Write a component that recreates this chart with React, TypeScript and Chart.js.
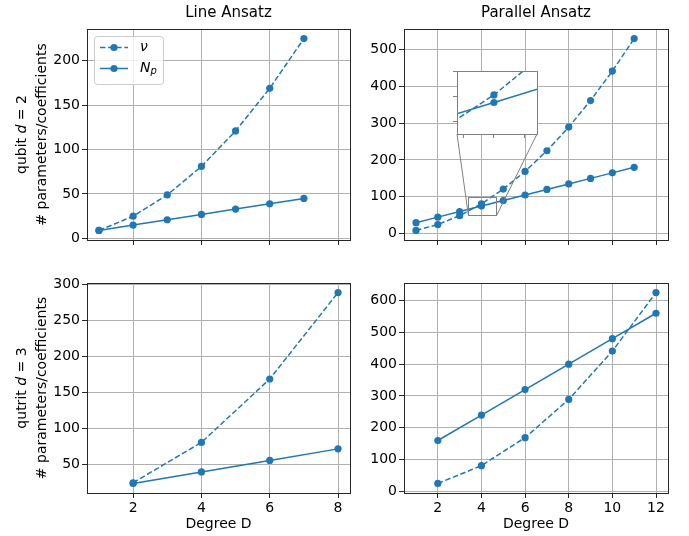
import React, { useEffect, useRef } from 'react';
import { Chart, registerables } from 'chart.js';

Chart.register(...registerables);

// ---------------- data ----------------
const lineQubitDegree = [1, 2, 3, 4, 5, 6, 7];
const lineQubitNu = [9, 25, 49, 81, 121, 169, 225];
const lineQubitNp = [9, 15, 21, 27, 33, 39, 45];

const parQubitDegree = [1, 2, 3, 4, 5, 6, 7, 8, 9, 10, 11];
const parQubitNu = [9, 25, 49, 81, 121, 169, 225, 289, 361, 441, 529];
const parQubitNp = [30, 45, 60, 75, 90, 105, 120, 135, 150, 165, 180];

const lineQutritDegree = [2, 4, 6, 8];
const lineQutritNu = [25, 81, 169, 289];
const lineQutritNp = [24, 40, 56, 72];

const parQutritDegree = [2, 4, 6, 8, 10, 12];
const parQutritNu = [25, 81, 169, 289, 441, 625];
const parQutritNp = [160, 240, 320, 400, 480, 560];

const xTicksLine = [2, 4, 6, 8];
const xTicksPar = [2, 4, 6, 8, 10, 12];
const yTicksLineQubit = [0, 50, 100, 150, 200];
const yTicksParQubit = [0, 100, 200, 300, 400, 500];
const yTicksLineQutrit = [50, 100, 150, 200, 250, 300];
const yTicksParQutrit = [0, 100, 200, 300, 400, 500, 600];

const insetXLim = [3.4, 4.7];
const insetYLim = [50, 100];
const insetXTicks = [3.5, 4, 4.5];
const insetYTicks = [60, 80, 100];

const colTitles = ['Line Ansatz', 'Parallel Ansatz'];
const rowLabels = [
  [{ t: 'qubit ' }, { t: 'd', it: true }, { t: ' = 2' }],
  [{ t: 'qutrit ' }, { t: 'd', it: true }, { t: ' = 3' }],
];
const yLabel2 = '# parameters/coefficients';
const xLabel = 'Degree D';

// ---------------- layout / style ----------------
const W = 689;
const H = 536;
const FONT = 'DejaVu Sans';
const BLUE = '#1f77b4';
const GRID = '#b0b0b0';
const SPINE = '#262626';
const DASH = [5.5, 2.6];
const LW = 1.5;
const PR = 3.6;
const YW = 80;
const XH = 40;

type Box = { left: number; top: number; right: number; bottom: number };
const boxes: Box[] = [
  { left: 87, top: 29, right: 350, bottom: 240 },
  { left: 404, top: 29, right: 668, bottom: 240 },
  { left: 87, top: 283, right: 350, bottom: 493 },
  { left: 404, top: 283, right: 668, bottom: 493 },
];
const insetBox: Box = { left: 457, top: 71, right: 537, bottom: 134 };

function padRange(vals: number[]) {
  const lo = Math.min(...vals);
  const hi = Math.max(...vals);
  const m = (hi - lo) * 0.05;
  return [lo - m, hi + m];
}

type Piece = { t: string; it?: boolean; sub?: boolean };

function drawPieces(ctx: CanvasRenderingContext2D, pieces: Piece[], size: number, x: number, y: number, align: 'center' | 'left') {
  const fontOf = (p: Piece) => `${p.it ? 'italic ' : ''}${p.sub ? Math.round(size * 0.7) : size}px "${FONT}"`;
  let total = 0;
  for (const p of pieces) {
    ctx.font = fontOf(p);
    total += ctx.measureText(p.t).width;
  }
  let cx = align === 'center' ? x - total / 2 : x;
  ctx.textAlign = 'left';
  for (const p of pieces) {
    ctx.font = fontOf(p);
    ctx.fillText(p.t, cx, y + (p.sub ? size * 0.22 : 0));
    cx += ctx.measureText(p.t).width;
  }
}

type Panel = {
  box: Box;
  x: number[];
  nu: number[];
  np: number[];
  xRangeData: number[];
  xTicks: number[];
  yTicks: number[];
  showXLabels: boolean;
  row: number;
  col: number;
  legend?: boolean;
  zoom?: boolean;
};

function datasets(x: number[], nu: number[], np: number[]) {
  return [
    {
      label: 'ν',
      data: x.map((v, i) => ({ x: v, y: nu[i] })),
      borderColor: BLUE,
      backgroundColor: BLUE,
      borderWidth: LW,
      borderDash: DASH,
      pointRadius: PR,
      pointBorderWidth: 0,
      pointBackgroundColor: BLUE,
      tension: 0,
    },
    {
      label: 'Nₚ',
      data: x.map((v, i) => ({ x: v, y: np[i] })),
      borderColor: BLUE,
      backgroundColor: BLUE,
      borderWidth: LW,
      pointRadius: PR,
      pointBorderWidth: 0,
      pointBackgroundColor: BLUE,
      tension: 0,
    },
  ];
}

function spinePlugin(color: string) {
  return {
    id: 'spines',
    afterDatasetsDraw(chart: any) {
      const { ctx, chartArea: a } = chart;
      ctx.save();
      ctx.strokeStyle = color;
      ctx.lineWidth = 1;
      ctx.strokeRect(Math.round(a.left) + 0.5, Math.round(a.top) + 0.5, Math.round(a.right - a.left), Math.round(a.bottom - a.top));
      ctx.restore();
    },
  };
}

function textPlugin(p: Panel) {
  return {
    id: 'panelText',
    afterDraw(chart: any) {
      const { ctx, chartArea: a } = chart;
      ctx.save();
      ctx.fillStyle = '#000';
      ctx.textBaseline = 'alphabetic';
      const cx = (a.left + a.right) / 2;
      const cy = (a.top + a.bottom) / 2;
      if (p.row === 0) {
        ctx.font = `15px "${FONT}"`;
        ctx.textAlign = 'center';
        const tx = p.col === 0 ? cx + 10 : cx;
        ctx.fillText(colTitles[p.col], tx, 16.5);
      }
      if (p.row === 1) {
        ctx.font = `14px "${FONT}"`;
        ctx.textAlign = 'center';
        ctx.fillText(xLabel, cx, 527.5);
      }
      if (p.col === 0) {
        ctx.save();
        ctx.translate(25.5, cy);
        ctx.rotate(-Math.PI / 2);
        drawPieces(ctx, rowLabels[p.row], 14, 0, 0, 'center');
        ctx.restore();
        ctx.save();
        ctx.translate(46, cy);
        ctx.rotate(-Math.PI / 2);
        drawPieces(ctx, [{ t: yLabel2 }], 14, 0, 0, 'center');
        ctx.restore();
      }
      if (p.legend) {
        const bx = 94, by = 36, bw = 69, bh = 48;
        ctx.beginPath();
        ctx.roundRect(bx + 0.5, by + 0.5, bw, bh, 3);
        ctx.fillStyle = 'rgba(255,255,255,0.8)';
        ctx.fill();
        ctx.strokeStyle = '#cccccc';
        ctx.lineWidth = 1;
        ctx.stroke();
        const rows = [
          { y: 47.5, dash: DASH, label: [{ t: 'ν', it: true }] as Piece[] },
          { y: 68.5, dash: [] as number[], label: [{ t: 'N', it: true }, { t: 'p', it: true, sub: true }] as Piece[] },
        ];
        for (const r of rows) {
          ctx.strokeStyle = BLUE;
          ctx.lineWidth = LW;
          ctx.setLineDash(r.dash);
          ctx.beginPath();
          ctx.moveTo(100, r.y);
          ctx.lineTo(128, r.y);
          ctx.stroke();
          ctx.setLineDash([]);
          ctx.fillStyle = BLUE;
          ctx.beginPath();
          ctx.arc(114, r.y, PR, 0, Math.PI * 2);
          ctx.fill();
          ctx.fillStyle = '#000';
          ctx.textBaseline = 'middle';
          drawPieces(ctx, r.label, 14, 140, r.y, 'left');
          ctx.textBaseline = 'alphabetic';
        }
      }
      if (p.zoom) {
        const xs = chart.scales.x;
        const ys = chart.scales.y;
        const x0 = xs.getPixelForValue(insetXLim[0]);
        const x1 = xs.getPixelForValue(insetXLim[1]);
        const y0 = ys.getPixelForValue(insetYLim[0]);
        const y1 = ys.getPixelForValue(insetYLim[1]);
        ctx.strokeStyle = '#808080';
        ctx.lineWidth = 1;
        ctx.strokeRect(Math.round(x0) + 0.5, Math.round(y1) + 0.5, Math.round(x1 - x0), Math.round(y0 - y1));
        ctx.beginPath();
        ctx.moveTo(insetBox.left, insetBox.bottom);
        ctx.lineTo(x0, y0);
        ctx.moveTo(insetBox.right, insetBox.bottom);
        ctx.lineTo(x1, y0);
        ctx.stroke();
      }
      ctx.restore();
    },
  };
}

function makePanel(canvas: HTMLCanvasElement, p: Panel) {
  const [xmin, xmax] = padRange(p.xRangeData);
  const [ymin, ymax] = padRange([...p.nu, ...p.np]);
  return new Chart(canvas, {
    type: 'line',
    data: { datasets: datasets(p.x, p.nu, p.np) as any },
    options: {
      responsive: false,
      animation: false,
      devicePixelRatio: 1,
      events: [],
      layout: {
        padding: {
          left: p.box.left - YW,
          top: p.box.top,
          right: W - p.box.right,
          bottom: H - p.box.bottom - XH,
        },
      },
      plugins: { legend: { display: false }, tooltip: { enabled: false }, title: { display: false } },
      scales: {
        x: {
          type: 'linear',
          min: xmin,
          max: xmax,
          bounds: 'data',
          afterBuildTicks: (s: any) => {
            s.ticks = p.xTicks.map((v) => ({ value: v }));
          },
          afterFit: (s: any) => {
            s.height = XH;
            s.paddingLeft = 0;
            s.paddingRight = 0;
          },
          grid: { color: GRID, lineWidth: 1, tickColor: SPINE, tickLength: 5, tickWidth: 1 },
          border: { display: false },
          ticks: {
            display: p.showXLabels,
            font: { family: FONT, size: 14 },
            color: '#000',
            padding: 2,
            maxRotation: 0,
            autoSkip: false,
            callback: (v: any) => String(v),
          },
        },
        y: {
          type: 'linear',
          min: ymin,
          max: ymax,
          bounds: 'data',
          afterBuildTicks: (s: any) => {
            s.ticks = p.yTicks.map((v) => ({ value: v }));
          },
          afterFit: (s: any) => {
            s.width = YW;
            s.paddingTop = 0;
            s.paddingBottom = 0;
          },
          grid: { color: GRID, lineWidth: 1, tickColor: SPINE, tickLength: 5, tickWidth: 1 },
          border: { display: false },
          ticks: {
            font: { family: FONT, size: 14 },
            color: '#000',
            padding: 2,
            autoSkip: false,
            callback: (v: any) => String(v),
          },
        },
      },
    } as any,
    plugins: [spinePlugin(SPINE), textPlugin(p)],
  });
}

function makeInset(canvas: HTMLCanvasElement) {
  const b = insetBox;
  return new Chart(canvas, {
    type: 'line',
    data: { datasets: datasets(parQubitDegree, parQubitNu, parQubitNp) as any },
    options: {
      responsive: false,
      animation: false,
      devicePixelRatio: 1,
      events: [],
      layout: { padding: { left: b.left - 20, top: b.top, right: W - b.right, bottom: H - b.bottom - 20 } },
      plugins: { legend: { display: false }, tooltip: { enabled: false }, title: { display: false } },
      scales: {
        x: {
          type: 'linear',
          min: insetXLim[0],
          max: insetXLim[1],
          bounds: 'data',
          afterBuildTicks: (s: any) => {
            s.ticks = insetXTicks.map((v) => ({ value: v }));
          },
          afterFit: (s: any) => {
            s.height = 20;
            s.paddingLeft = 0;
            s.paddingRight = 0;
          },
          grid: { drawOnChartArea: false, tickColor: '#808080', tickLength: 4, tickWidth: 1 },
          border: { display: false },
          ticks: { display: false },
        },
        y: {
          type: 'linear',
          min: insetYLim[0],
          max: insetYLim[1],
          bounds: 'data',
          afterBuildTicks: (s: any) => {
            s.ticks = insetYTicks.map((v) => ({ value: v }));
          },
          afterFit: (s: any) => {
            s.width = 20;
            s.paddingTop = 0;
            s.paddingBottom = 0;
          },
          grid: { drawOnChartArea: false, tickColor: '#808080', tickLength: 4, tickWidth: 1 },
          border: { display: false },
          ticks: { display: false },
        },
      },
    } as any,
    plugins: [
      {
        id: 'insetBg',
        beforeDraw(chart: any) {
          const { ctx, chartArea: a } = chart;
          ctx.save();
          ctx.fillStyle = '#fff';
          ctx.fillRect(a.left, a.top, a.right - a.left, a.bottom - a.top);
          ctx.restore();
        },
      },
      spinePlugin('#808080'),
    ],
  });
}

const panels: Panel[] = [
  {
    box: boxes[0], x: lineQubitDegree, nu: lineQubitNu, np: lineQubitNp,
    xRangeData: [...lineQubitDegree, ...lineQutritDegree], xTicks: xTicksLine, yTicks: yTicksLineQubit,
    showXLabels: false, row: 0, col: 0, legend: true,
  },
  {
    box: boxes[1], x: parQubitDegree, nu: parQubitNu, np: parQubitNp,
    xRangeData: [...parQubitDegree, ...parQutritDegree], xTicks: xTicksPar, yTicks: yTicksParQubit,
    showXLabels: false, row: 0, col: 1, zoom: true,
  },
  {
    box: boxes[2], x: lineQutritDegree, nu: lineQutritNu, np: lineQutritNp,
    xRangeData: [...lineQubitDegree, ...lineQutritDegree], xTicks: xTicksLine, yTicks: yTicksLineQutrit,
    showXLabels: true, row: 1, col: 0,
  },
  {
    box: boxes[3], x: parQutritDegree, nu: parQutritNu, np: parQutritNp,
    xRangeData: [...parQubitDegree, ...parQutritDegree], xTicks: xTicksPar, yTicks: yTicksParQutrit,
    showXLabels: true, row: 1, col: 1,
  },
];

export default function App() {
  const refs = useRef<(HTMLCanvasElement | null)[]>([]);
  useEffect(() => {
    const charts: Chart[] = [];
    panels.forEach((p, i) => {
      const c = refs.current[i];
      if (c) charts.push(makePanel(c, p));
    });
    const ic = refs.current[4];
    if (ic) charts.push(makeInset(ic));
    return () => charts.forEach((c) => c.destroy());
  }, []);
  return (
    <div style={{ position: 'fixed', left: 0, top: 0, width: W, height: H, background: '#fff' }}>
      {[0, 1, 2, 3, 4].map((i) => (
        <canvas
          key={i}
          ref={(el) => {
            refs.current[i] = el;
          }}
          width={W}
          height={H}
          style={{ position: 'absolute', left: 0, top: 0, width: W, height: H }}
        />
      ))}
    </div>
  );
}
